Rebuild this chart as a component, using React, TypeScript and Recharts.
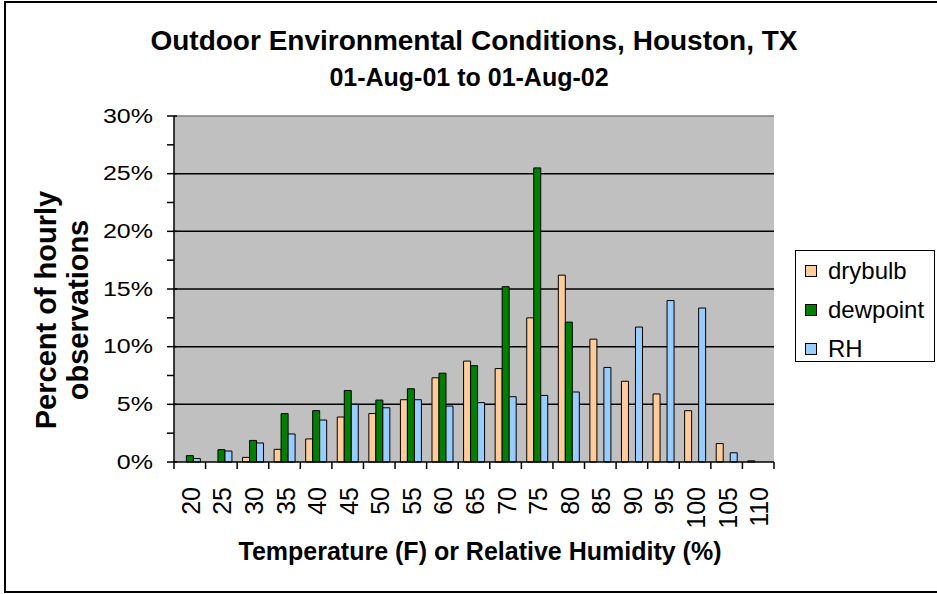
import React from 'react';
import { BarChart, Bar, XAxis, YAxis, CartesianGrid, ReferenceLine, Legend } from 'recharts';

// bins (F for temperatures, % for RH)
const categories = ['20', '25', '30', '35', '40', '45', '50', '55', '60', '65', '70', '75', '80', '85', '90', '95', '100', '105', '110'];
const drybulb = [0, 0, 0.4, 1.1, 2.0, 3.9, 4.2, 5.4, 7.3, 8.75, 8.1, 12.5, 16.2, 10.65, 7.0, 5.9, 4.45, 1.6, 0.1];
const dewpoint = [0.55, 1.07, 1.87, 4.2, 4.45, 6.2, 5.37, 6.35, 7.7, 8.35, 15.2, 25.5, 12.13, 0, 0, 0, 0, 0, 0];
const rh = [0.3, 0.95, 1.65, 2.43, 3.64, 5.0, 4.7, 5.4, 4.85, 5.15, 5.66, 5.77, 6.07, 8.2, 11.7, 14.0, 13.35, 0.8, 0];
const yTicks = [0, 2.5, 5, 7.5, 10, 12.5, 15, 17.5, 20, 22.5, 25, 27.5, 30];
const gridValues = [5, 10, 15, 20, 25];

const series = [
  { key: 'drybulb', color: '#FFCC99' },
  { key: 'dewpoint', color: '#008000' },
  { key: 'RH', color: '#99CCFF' },
];

const W = 937;
const H = 594;
const PLOT_LEFT = 174;
const PLOT_RIGHT = 774;
const PLOT_TOP = 116;
const PLOT_BOTTOM = 462;
const Y_AXIS_W = 70;
const X_AXIS_H = 80;
const BAND = (PLOT_RIGHT - PLOT_LEFT) / categories.length;
const FONT = '"Liberation Sans", Arial, sans-serif';

const data = categories.map((c, i) => ({
  temp: c,
  drybulb: drybulb[i],
  dewpoint: dewpoint[i],
  RH: rh[i],
}));

function XTick(props: any) {
  const { x, y, payload, index } = props;
  const last = index === categories.length - 1;
  return (
    <g>
      <line x1={x - BAND / 2} x2={x - BAND / 2} y1={y} y2={y + 7} stroke="#000" strokeWidth={1.5} />
      {last && <line x1={x + BAND / 2} x2={x + BAND / 2} y1={y} y2={y + 7} stroke="#000" strokeWidth={1.5} />}
      <text
        transform={`translate(${x + 1},${y + 25}) rotate(-90)`}
        textAnchor="end"
        dominantBaseline="central"
        fontSize={25}
        fontFamily={FONT}
        fill="#000"
      >
        {payload.value}
      </text>
    </g>
  );
}

function YTick(props: any) {
  const { x, y, payload } = props;
  const major = payload.value % 5 === 0;
  return (
    <g>
      <line x1={x - 7} x2={major ? x + 3 : x} y1={y} y2={y} stroke="#000" strokeWidth={1.5} />
      {major && (
        <text
          transform={`translate(${x - 21},${y}) scale(1.25,1)`}
          textAnchor="end"
          dominantBaseline="central"
          fontSize={20}
          fontFamily={FONT}
          fill="#000"
        >
          {payload.value}%
        </text>
      )}
    </g>
  );
}

function LegendBox() {
  return (
    <div style={{ border: '1.5px solid #000', background: '#fff', width: 140, height: 112, boxSizing: 'border-box', paddingTop: 0 }}>
      {series.map((s) => (
        <div key={s.key} style={{ display: 'flex', alignItems: 'center', height: 39, fontFamily: FONT, fontSize: 24, color: '#000' }}>
          <span style={{ display: 'inline-block', width: 10, height: 10, background: s.color, border: '1px solid #000', marginLeft: 9, marginRight: 11 }} />
          <span>{s.key}</span>
        </div>
      ))}
    </div>
  );
}

export default function App() {
  return (
    <div style={{ position: 'absolute', left: 0, top: 0, width: W, height: H, background: '#fff', fontFamily: FONT }}>
      <div style={{ position: 'absolute', left: 4, top: 1, width: W, height: 592, borderTop: '2px solid #000', borderLeft: '2px solid #000', borderBottom: '2px solid #000', boxSizing: 'border-box' }} />
      <div style={{ position: 'absolute', left: 0, width: 948, top: 24, textAlign: 'center', fontSize: 28, fontWeight: 'bold', lineHeight: '34px' }}>
        Outdoor Environmental Conditions, Houston, TX
      </div>
      <div style={{ position: 'absolute', left: 0, width: 938, top: 62, textAlign: 'center', fontSize: 25, fontWeight: 'bold', lineHeight: '30px' }}>
        01-Aug-01 to 01-Aug-02
      </div>
      <div style={{ position: 'absolute', left: 0, width: 960, top: 536, textAlign: 'center', fontSize: 25, fontWeight: 'bold', lineHeight: '30px' }}>
        Temperature (F) or Relative Humidity (%)
      </div>
      <div
        style={{
          position: 'absolute', left: 62, top: 310, width: 320, textAlign: 'center', fontSize: 29, fontWeight: 'bold', lineHeight: '32px',
          transform: 'translate(-50%, -50%) rotate(-90deg)',
        }}
      >
        Percent of hourly<br />observations
      </div>
      <div style={{ position: 'absolute', left: 0, top: 0 }}>
        <BarChart
          width={W}
          height={H}
          data={data}
          barCategoryGap="17%"
          barGap={0}
          margin={{ top: PLOT_TOP, right: W - PLOT_RIGHT, bottom: H - PLOT_BOTTOM - X_AXIS_H, left: PLOT_LEFT - Y_AXIS_W }}
        >
          <CartesianGrid fill="#C0C0C0" vertical={false} horizontalValues={gridValues} stroke="#000" strokeWidth={1.5} />
          <XAxis
            dataKey="temp"
            height={X_AXIS_H}
            interval={0}
            tickLine={false}
            tickSize={0}
            tickMargin={0}
            tick={<XTick />}
            axisLine={{ stroke: '#000', strokeWidth: 1.5 }}
          />
          <YAxis
            width={Y_AXIS_W}
            domain={[0, 30]}
            ticks={yTicks}
            interval={0}
            tickLine={false}
            tickSize={0}
            tickMargin={0}
            tick={<YTick />}
            axisLine={{ stroke: '#000', strokeWidth: 1.5 }}
          />
          <YAxis yAxisId="frame" orientation="right" width={0} domain={[0, 30]} tick={false} tickLine={false} axisLine={{ stroke: '#808080', strokeWidth: 1.5 }} />
          <ReferenceLine y={30} stroke="#808080" strokeWidth={1.5} />
          {series.map((s) => (
            <Bar key={s.key} dataKey={s.key} fill={s.color} stroke="#000" strokeWidth={1} isAnimationActive={false} />
          ))}
          <Legend
            layout="vertical"
            align="center"
            verticalAlign="middle"
            content={<LegendBox />}
            wrapperStyle={{ position: 'absolute', left: 795, top: 250, width: 140, height: 112 }}
          />
        </BarChart>
      </div>
    </div>
  );
}
